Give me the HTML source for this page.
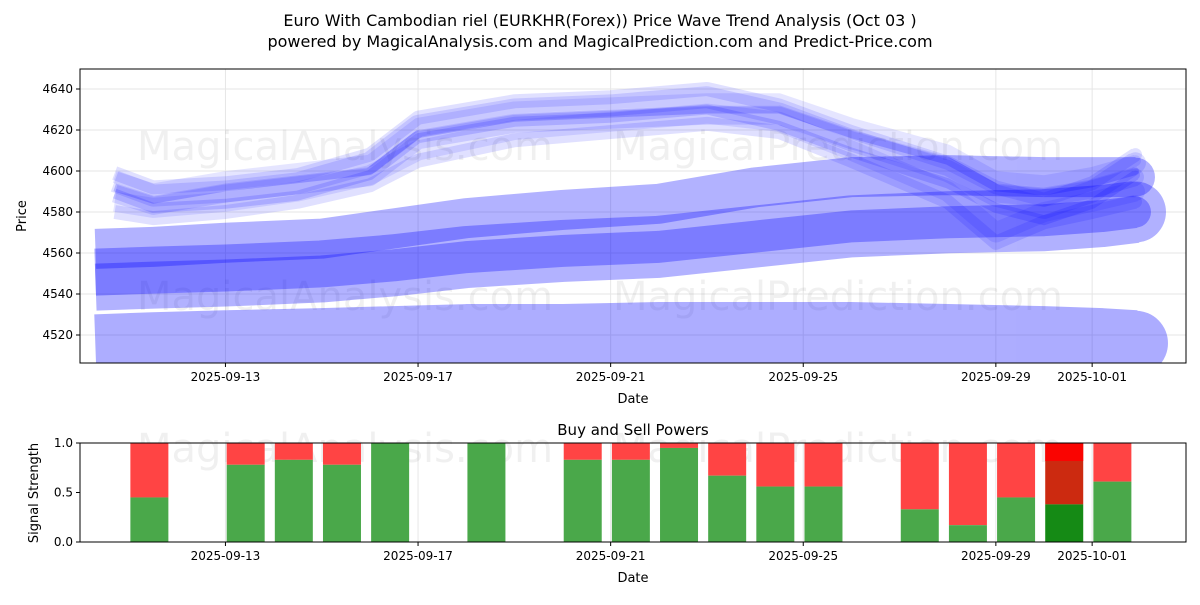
<!DOCTYPE html>
<html><head><meta charset="utf-8"><style>
body{margin:0;background:#fff;width:1200px;height:600px;overflow:hidden;font-family:"Liberation Sans","DejaVu Sans",sans-serif}
svg text{font-family:"DejaVu Sans","Liberation Sans",sans-serif}
</style></head><body>
<svg id="chart" width="1200" height="600" xmlns="http://www.w3.org/2000/svg">
<text x="600" y="26" text-anchor="middle" font-size="16">Euro With Cambodian riel (EURKHR(Forex)) Price Wave Trend Analysis (Oct 03 )</text>
<text x="600" y="47" text-anchor="middle" font-size="16">powered by MagicalAnalysis.com and MagicalPrediction.com and Predict-Price.com</text>
<g id="topg"></g><g id="botg"></g>
</svg>
<script>
const dateTicks=['2025-09-13','2025-09-17','2025-09-21','2025-09-25','2025-09-29','2025-10-01'];
const dateTickDays=[3,7,11,15,19,21];
const priceTicks=[4520,4540,4560,4580,4600,4620,4640];
const bandDays=[0.3,1.5,3,5,6.5,8,10,12,14,16,18,20,21.2,21.9];
const bandLow=[4514,4515,4516,4517,4518,4519,4519,4520,4520,4520,4519,4518,4517,4516];
const bandMid=[4547,4548,4549,4551,4554,4558,4561,4563,4568,4573,4575,4576,4578,4580];
const bandHigh=[4562,4563,4565,4567,4572,4577,4581,4584,4592,4597,4598,4597,4597,4597];
const waveDays=[0.7,1.5,3,4.5,6,7,9,11,13,14.5,16,18,19,20,21,21.9];
const waveA=[4595,4588,4590,4594,4604,4622,4630,4632,4636,4628,4615,4600,4588,4582,4590,4604];
const waveB=[4592,4586,4592,4596,4600,4618,4626,4628,4630,4630,4618,4605,4592,4590,4594,4600];
const waveC=[4585,4582,4585,4590,4598,4610,4620,4624,4628,4624,4610,4590,4570,4580,4585,4590];
const buyDays=[1,3,4,5,6,8,10,11,12,13,14,15,17,18,19,20,21];
const buyVals=[0.45,0.78,0.83,0.78,1.0,1.0,0.83,0.83,0.95,0.67,0.56,0.56,0.33,0.17,0.45,0.38,0.61];
const NS='http://www.w3.org/2000/svg';
function mk(tag,attrs,parent){const e=document.createElementNS(NS,tag);for(const k in attrs)e.setAttribute(k,attrs[k]);parent.appendChild(e);return e;}
const L=80,R=1186,T1=69,B1=363,T2=443,B2=542;
const xD=d=>81+d*48.15;
const yP=v=>89+(4640-v)*2.05;
const yS=v=>B2-v*(B2-T2);
const topG=document.getElementById('topg'),botG=document.getElementById('botg');
mk('rect',{x:L,y:T1,width:R-L,height:B1-T1,fill:'#fff'},topG);
const defs=mk('clipPath',{id:'c1'},topG);mk('rect',{x:L,y:T1,width:R-L,height:B1-T1},defs);
priceTicks.forEach(v=>{
 const g=mk('line',{x1:L,x2:R,y1:yP(v),y2:yP(v),stroke:'#e6e6e6'},topG);
 
 
 mk('line',{x1:L-4,x2:L,y1:yP(v),y2:yP(v),stroke:'#000'},topG);
 const t=mk('text',{x:L-7,y:yP(v)+4,'text-anchor':'end','font-size':12},topG);t.textContent=v;
 
 
});
dateTickDays.forEach((d,i)=>{
 mk('line',{x1:xD(d),x2:xD(d),y1:T1,y2:B1,stroke:'#e6e6e6'},topG);
 mk('line',{x1:xD(d),x2:xD(d),y1:B1,y2:B1+4,stroke:'#000'},topG);
 const t=mk('text',{x:xD(d),y:B1+18,'text-anchor':'middle','font-size':12},topG);t.textContent=dateTicks[i];
 
 
 mk('line',{x1:xD(d),x2:xD(d),y1:T2,y2:B2,stroke:'#e6e6e6'},botG);
 mk('line',{x1:xD(d),x2:xD(d),y1:B2,y2:B2+4,stroke:'#000'},botG);
 const t2=mk('text',{x:xD(d),y:B2+18,'text-anchor':'middle','font-size':12},botG);t2.textContent=dateTicks[i];
 
 
});
const wm=[[345,160,'MagicalAnalysis.com'],[838,160,'MagicalPrediction.com'],[345,310,'MagicalAnalysis.com'],[838,310,'MagicalPrediction.com']];
wm.forEach(w=>{const t=mk('text',{x:w[0],y:w[1],'text-anchor':'middle','font-size':40,fill:'#000','fill-opacity':0.06},topG);t.textContent=w[2];

});
const G=mk('g',{'clip-path':'url(#c1)'},topG);
function band(days,vals,off,w,a,name){
 const pts=days.map((d,i)=>xD(d)+','+yP(vals[i]+off)).join(' ');
 const g=mk('g',{opacity:a},G);
 
 
 mk('polyline',{points:pts,fill:'none',stroke:'#0000ff','stroke-width':w,'stroke-linecap':'butt','stroke-linejoin':'round'},g);
 const n=days.length-1;
 mk('circle',{cx:xD(days[n]),cy:yP(vals[n]+off),r:w/2-0.5,fill:'#0000ff'},g);
}
band(bandDays,bandLow,0,66,0.32,'wave-band-low');
band(bandDays,bandMid,0,62,0.3,'wave-band-mid');
band(bandDays,bandMid,0,32,0.3,'wave-band-mid-core');
band(bandDays,bandHigh,0,40,0.3,'wave-band-high');
[[waveA,0,22,0.12],[waveA,4,14,0.12],[waveB,-3,18,0.12],[waveB,5,12,0.1],[waveC,0,20,0.1],[waveC,-5,14,0.12],[waveA,-6,10,0.15],[waveB,0,8,0.2]].forEach((s,i)=>band(waveDays,s[0],s[1],s[2],s[3],'price-wave-'+i));
mk('rect',{x:L,y:T1,width:R-L,height:B1-T1,fill:'none',stroke:'#000'},topG);
let tx=mk('text',{x:633,y:403,'text-anchor':'middle','font-size':13},topG);tx.textContent='Date';
tx=mk('text',{x:26,y:216,'text-anchor':'middle','font-size':13,transform:'rotate(-90 26 216)'},topG);tx.textContent='Price';
[0,0.5,1].forEach(v=>{
 mk('line',{x1:L-4,x2:L,y1:yS(v),y2:yS(v),stroke:'#000'},botG);
 const tt=mk('text',{x:L-7,y:yS(v)+4,'text-anchor':'end','font-size':12},botG);tt.textContent=v.toFixed(1);
 
 
});
wm.slice(0,2).forEach(w=>{const tt=mk('text',{x:w[0],y:462,'text-anchor':'middle','font-size':40,fill:'#000','fill-opacity':0.06},botG);tt.textContent=w[2];});
buyDays.forEach((d,i)=>{
 const cx=xD(d+0.42),v=buyVals[i],last=i===buyDays.length-2;
 const r=mk('rect',{x:cx-19,y:yS(1),width:38,height:yS(v)-yS(1),fill:last?'#cc2a10':'#ff4444'},botG);
 
 
 if(last){mk('rect',{x:cx-19,y:yS(1),width:38,height:18,fill:'#ff0000','fill-opacity':0.9},botG);}
 const g=mk('rect',{x:cx-19,y:yS(v),width:38,height:B2-yS(v),fill:last?'#158a15':'#4aa84a'},botG);
 
 
});
mk('rect',{x:L,y:T2,width:R-L,height:B2-T2,fill:'none',stroke:'#000'},botG);
tx=mk('text',{x:633,y:435,'text-anchor':'middle','font-size':15},botG);tx.textContent='Buy and Sell Powers';
tx=mk('text',{x:633,y:582,'text-anchor':'middle','font-size':13},botG);tx.textContent='Date';
tx=mk('text',{x:38,y:493,'text-anchor':'middle','font-size':13,transform:'rotate(-90 38 493)'},botG);tx.textContent='Signal Strength';
</script>
</body></html>
